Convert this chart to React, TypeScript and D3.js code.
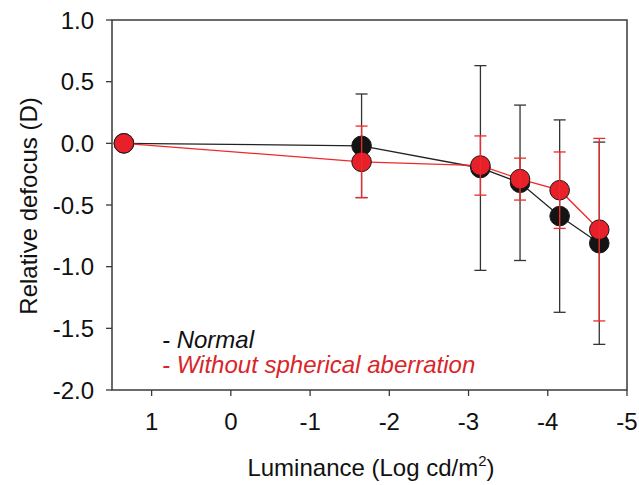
import * as d3 from 'd3';

// luminance (log cd/m2) for each measurement
const luminance = [1.35, -1.65, -3.15, -3.65, -4.15, -4.65];
// relative defocus (D), mean and error
const normalMean = [0, -0.02, -0.2, -0.32, -0.59, -0.81];
const normalErr = [0, 0.42, 0.83, 0.63, 0.78, 0.82];
const noSaMean = [0, -0.15, -0.18, -0.29, -0.38, -0.7];
const noSaErr = [0, 0.29, 0.24, 0.17, 0.31, 0.74];

const xTicks = [1, 0, -1, -2, -3, -4, -5];
const yTicks = [1, 0.5, 0, -0.5, -1, -1.5, -2];

const W = 639;
const H = 485;
const M = { left: 112, right: 627, top: 20, bottom: 390 };
const FONT = 'Liberation Sans, Arial, sans-serif';
const AXIS = '#3a3a3a';

const x = d3.scaleLinear().domain([1.5, -5]).range([M.left, M.right]);
const y = d3.scaleLinear().domain([-2, 1]).range([M.bottom, M.top]);

interface SeriesProps {
  mean: number[];
  err: number[];
  line: string;
  fill: string;
  errColor: string;
}

function Series({ mean, err, line, fill, errColor }: SeriesProps) {
  const path = d3.line<number>()
    .x((_, i) => x(luminance[i]))
    .y((d) => y(d))(mean) || '';
  return (
    <g>
      <path d={path} fill="none" stroke={line} strokeWidth={1.3} />
      {mean.map((m, i) => (
        <circle key={'c' + i} cx={x(luminance[i])} cy={y(m)} r={9.8} fill={fill} stroke="#1a1a1a" strokeWidth={1} />
      ))}
      {mean.map((m, i) => {
        if (!err[i]) return null;
        const cx = x(luminance[i]);
        const hi = y(m + err[i]);
        const lo = y(m - err[i]);
        return (
          <g key={'e' + i} stroke={errColor} strokeWidth={1.3}>
            <line x1={cx} x2={cx} y1={hi} y2={lo} />
            <line x1={cx - 6} x2={cx + 6} y1={hi} y2={hi} />
            <line x1={cx - 6} x2={cx + 6} y1={lo} y2={lo} />
          </g>
        );
      })}
    </g>
  );
}

export default function App() {
  return (
    <svg width={W} height={H} viewBox={`0 0 ${W} ${H}`}
      style={{ position: 'absolute', left: 0, top: 0, background: '#fff' }}
      fontFamily={FONT}>
      {/* frame */}
      <rect x={M.left} y={M.top} width={M.right - M.left} height={M.bottom - M.top}
        fill="none" stroke={AXIS} strokeWidth={1.5} />

      {/* y axis */}
      {yTicks.map((t) => (
        <g key={'y' + t}>
          <line x1={M.left - 6} x2={M.left} y1={y(t)} y2={y(t)} stroke={AXIS} strokeWidth={1.3} />
          <text x={94} y={y(t)} dy="0.36em" textAnchor="end" fontSize={24} fill="#111">
            {t.toFixed(1)}
          </text>
        </g>
      ))}

      {/* x axis */}
      {xTicks.map((t) => (
        <g key={'x' + t}>
          <line x1={x(t)} x2={x(t)} y1={M.bottom} y2={M.bottom + 6} stroke={AXIS} strokeWidth={1.3} />
          <text x={x(t)} y={430} textAnchor="middle" fontSize={24} fill="#111">{String(t)}</text>
        </g>
      ))}

      <text x={371} y={476} textAnchor="middle" fontSize={24} fill="#111">
        Luminance (Log cd/m<tspan dy={-10} fontSize={15}>2</tspan><tspan dy={10}>)</tspan>
      </text>
      <text transform={`translate(37,206) rotate(-90)`} textAnchor="middle" fontSize={24} fill="#111">
        Relative defocus (D)
      </text>

      <Series mean={normalMean} err={normalErr} line="#222" fill="#141414" errColor="#333" />
      <Series mean={noSaMean} err={noSaErr} line="#ee2a2a" fill="#e8202a" errColor="#ee2a2a" />

      {/* legend */}
      <text x={162} y={348} fontSize={24} fontStyle="italic" fill="#111">- Normal</text>
      <text x={162} y={373} fontSize={24} fontStyle="italic" fill="#d8262b">- Without spherical aberration</text>
    </svg>
  );
}
